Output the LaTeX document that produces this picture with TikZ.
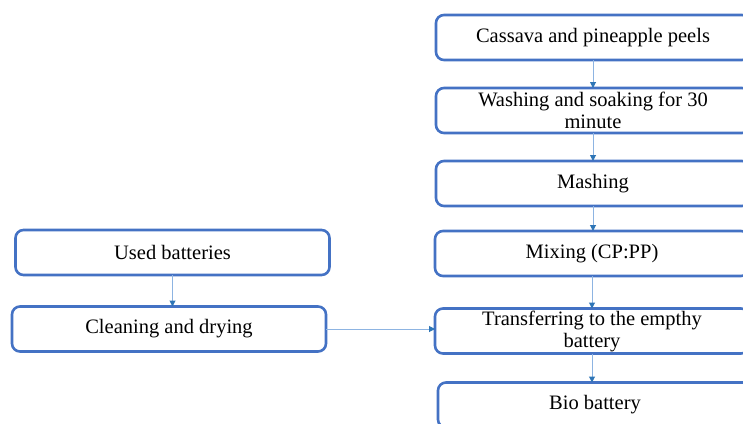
\documentclass[tikz,border=0pt]{standalone}
\usepackage{fontspec}
\setmainfont{Liberation Serif}
\usetikzlibrary{arrows.meta}
\definecolor{boxblue}{HTML}{4472C4}
\definecolor{linkblue}{HTML}{8DB4E2}
\definecolor{tipblue}{HTML}{2E75B6}
\begin{document}
\begin{tikzpicture}[x=1pt,y=-1pt,inner sep=0pt,outer sep=0pt,
procbox/.style={draw=boxblue,rounded corners=8pt,line width=2.6pt,minimum width=314pt,minimum height=45pt,align=center,font=\fontsize{20.5}{22}\selectfont},
flow/.style={draw=linkblue,line width=1pt,-{Triangle[length=6pt,width=6pt,color=tipblue]}}]
\useasboundingbox (0,0) rectangle (743,423);
\draw (593,37.5) node[procbox] (peels) {Cassava and pineapple peels};
\draw (593,110.5) node[procbox] (wash) {Washing and soaking for 30\\minute};
\draw (593,183.5) node[procbox] (mash) {Mashing};
\draw (592,253.5) node[procbox] (mix) {Mixing (CP:PP)};
\draw (592,331) node[procbox] (trans) {Transferring to the empthy\\battery};
\draw (595,405) node[procbox] (bio) {Bio battery};
\draw (172.5,252.5) node[procbox] (used) {Used batteries};
\draw (169,329) node[procbox] (clean) {Cleaning and drying};
\draw[flow] (peels) -- (wash);
\draw[flow] (wash) -- (mash);
\draw[flow] (mash.south) -- (mash.south |- mix.north);
\draw[flow] (mix) -- (trans);
\draw[flow] (trans.south) -- (trans.south |- bio.north);
\draw[flow] (used.south) -- (used.south |- clean.north);
\draw[flow] (clean) -- (clean -| trans.west);
\end{tikzpicture}
\end{document}
